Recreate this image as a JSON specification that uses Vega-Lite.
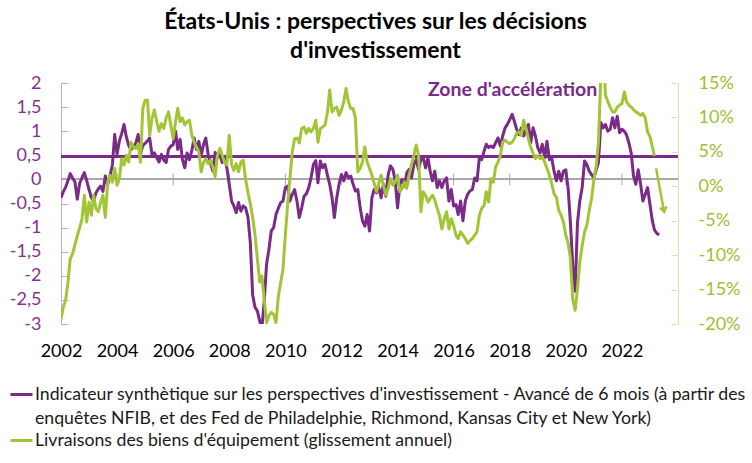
{
  "$schema": "https://vega.github.io/schema/vega-lite/v6.json",
  "width": 617,
  "height": 241,
  "autosize": {"type": "none"},
  "padding": {"left": 61, "top": 83, "right": 74, "bottom": 139},
  "background": "white",
  "title": {
    "text": ["États-Unis : perspectives sur les décisions", "d'investissement"],
    "font": "Lato",
    "fontSize": 23,
    "fontWeight": "bold",
    "color": "#000000",
    "anchor": "middle",
    "frame": "group",
    "dx": 6,
    "offset": 11,
    "lineHeight": 29
  },
  "data": {
    "values": [
      {"date": "2002-01", "indicateur": -0.38, "livraisons": -19.3},
      {"date": "2002-02", "indicateur": -0.25, "livraisons": -17.5},
      {"date": "2002-03", "indicateur": -0.17, "livraisons": -16.6},
      {"date": "2002-04", "indicateur": -0.03, "livraisons": -14.0},
      {"date": "2002-05", "indicateur": 0.12, "livraisons": -10.5},
      {"date": "2002-06", "indicateur": 0.03, "livraisons": -9.8},
      {"date": "2002-07", "indicateur": -0.05, "livraisons": -8.5},
      {"date": "2002-08", "indicateur": -0.41, "livraisons": -7.2},
      {"date": "2002-09", "indicateur": -0.08, "livraisons": -6.0},
      {"date": "2002-10", "indicateur": 0.03, "livraisons": -4.8},
      {"date": "2002-11", "indicateur": 0.14, "livraisons": -1.3},
      {"date": "2002-12", "indicateur": -0.02, "livraisons": -5.2},
      {"date": "2003-01", "indicateur": -0.21, "livraisons": -2.3},
      {"date": "2003-02", "indicateur": -0.38, "livraisons": -4.2},
      {"date": "2003-03", "indicateur": -0.45, "livraisons": -1.3},
      {"date": "2003-04", "indicateur": -0.28, "livraisons": -3.2},
      {"date": "2003-05", "indicateur": -0.2, "livraisons": -3.7},
      {"date": "2003-06", "indicateur": -0.14, "livraisons": -2.3},
      {"date": "2003-07", "indicateur": -0.25, "livraisons": -1.3},
      {"date": "2003-08", "indicateur": 0.07, "livraisons": -4.5},
      {"date": "2003-09", "indicateur": -0.1, "livraisons": 0.6},
      {"date": "2003-10", "indicateur": 0.07, "livraisons": 1.6},
      {"date": "2003-11", "indicateur": 0.3, "livraisons": 0.6},
      {"date": "2003-12", "indicateur": 0.93, "livraisons": 2.6},
      {"date": "2004-01", "indicateur": 0.52, "livraisons": 0.15},
      {"date": "2004-02", "indicateur": 0.8, "livraisons": 1.1},
      {"date": "2004-03", "indicateur": 0.95, "livraisons": 4.0},
      {"date": "2004-04", "indicateur": 1.14, "livraisons": 3.1},
      {"date": "2004-05", "indicateur": 0.88, "livraisons": 4.5},
      {"date": "2004-06", "indicateur": 0.7, "livraisons": 3.5},
      {"date": "2004-07", "indicateur": 0.62, "livraisons": 6.4},
      {"date": "2004-08", "indicateur": 0.68, "livraisons": 5.7},
      {"date": "2004-09", "indicateur": 0.75, "livraisons": 5.5},
      {"date": "2004-10", "indicateur": 0.93, "livraisons": 6.2},
      {"date": "2004-11", "indicateur": 0.52, "livraisons": 3.5},
      {"date": "2004-12", "indicateur": 0.7, "livraisons": 11.3},
      {"date": "2005-01", "indicateur": 0.75, "livraisons": 12.5},
      {"date": "2005-02", "indicateur": 0.8, "livraisons": 12.5},
      {"date": "2005-03", "indicateur": 0.86, "livraisons": 7.4},
      {"date": "2005-04", "indicateur": 0.5, "livraisons": 9.9},
      {"date": "2005-05", "indicateur": 0.55, "livraisons": 11.1},
      {"date": "2005-06", "indicateur": 0.45, "livraisons": 9.4},
      {"date": "2005-07", "indicateur": 0.36, "livraisons": 8.0},
      {"date": "2005-08", "indicateur": 0.52, "livraisons": 9.1},
      {"date": "2005-09", "indicateur": 0.4, "livraisons": 8.4},
      {"date": "2005-10", "indicateur": 0.35, "livraisons": 9.9},
      {"date": "2005-11", "indicateur": 0.62, "livraisons": 10.8},
      {"date": "2005-12", "indicateur": 0.69, "livraisons": 8.9},
      {"date": "2006-01", "indicateur": 0.72, "livraisons": 6.9},
      {"date": "2006-02", "indicateur": 1.0, "livraisons": 9.4},
      {"date": "2006-03", "indicateur": 0.62, "livraisons": 11.3},
      {"date": "2006-04", "indicateur": 0.83, "livraisons": 9.4},
      {"date": "2006-05", "indicateur": 0.41, "livraisons": 9.9},
      {"date": "2006-06", "indicateur": 0.24, "livraisons": 8.9},
      {"date": "2006-07", "indicateur": 0.55, "livraisons": 9.4},
      {"date": "2006-08", "indicateur": 0.41, "livraisons": 9.6},
      {"date": "2006-09", "indicateur": 0.6, "livraisons": 7.4},
      {"date": "2006-10", "indicateur": 0.86, "livraisons": 6.4},
      {"date": "2006-11", "indicateur": 0.62, "livraisons": 5.7},
      {"date": "2006-12", "indicateur": 0.79, "livraisons": 5.0},
      {"date": "2007-01", "indicateur": 0.5, "livraisons": 2.1},
      {"date": "2007-02", "indicateur": 0.73, "livraisons": 3.5},
      {"date": "2007-03", "indicateur": 0.86, "livraisons": 4.0},
      {"date": "2007-04", "indicateur": 0.52, "livraisons": 3.3},
      {"date": "2007-05", "indicateur": 0.35, "livraisons": 3.8},
      {"date": "2007-06", "indicateur": 0.17, "livraisons": 2.8},
      {"date": "2007-07", "indicateur": 0.56, "livraisons": 1.4},
      {"date": "2007-08", "indicateur": 0.45, "livraisons": 4.5},
      {"date": "2007-09", "indicateur": 0.52, "livraisons": 5.5},
      {"date": "2007-10", "indicateur": 0.35, "livraisons": 4.5},
      {"date": "2007-11", "indicateur": 0.45, "livraisons": 3.5},
      {"date": "2007-12", "indicateur": 0.24, "livraisons": 3.1},
      {"date": "2008-01", "indicateur": -0.1, "livraisons": 7.4},
      {"date": "2008-02", "indicateur": -0.45, "livraisons": 3.1},
      {"date": "2008-03", "indicateur": -0.55, "livraisons": 2.3},
      {"date": "2008-04", "indicateur": -0.69, "livraisons": 3.3},
      {"date": "2008-05", "indicateur": -0.48, "livraisons": 2.1},
      {"date": "2008-06", "indicateur": -0.66, "livraisons": 3.5},
      {"date": "2008-07", "indicateur": -0.55, "livraisons": 3.8},
      {"date": "2008-08", "indicateur": -0.59, "livraisons": 1.0},
      {"date": "2008-09", "indicateur": -0.79, "livraisons": -0.9},
      {"date": "2008-10", "indicateur": -1.3, "livraisons": -2.5},
      {"date": "2008-11", "indicateur": -2.4, "livraisons": -4.5},
      {"date": "2008-12", "indicateur": -2.65, "livraisons": -7.0},
      {"date": "2009-01", "indicateur": -2.73, "livraisons": -10.5},
      {"date": "2009-02", "indicateur": -2.94, "livraisons": -13.9},
      {"date": "2009-03", "indicateur": -3.1, "livraisons": -13.0},
      {"date": "2009-04", "indicateur": -2.52, "livraisons": -16.5},
      {"date": "2009-05", "indicateur": -1.76, "livraisons": -19.8},
      {"date": "2009-06", "indicateur": -1.45, "livraisons": -18.8},
      {"date": "2009-07", "indicateur": -1.07, "livraisons": -18.3},
      {"date": "2009-08", "indicateur": -1.0, "livraisons": -18.6},
      {"date": "2009-09", "indicateur": -0.73, "livraisons": -19.8},
      {"date": "2009-10", "indicateur": -0.6, "livraisons": -16.0},
      {"date": "2009-11", "indicateur": -0.48, "livraisons": -14.0},
      {"date": "2009-12", "indicateur": -0.45, "livraisons": -12.0},
      {"date": "2010-01", "indicateur": -0.17, "livraisons": -7.0},
      {"date": "2010-02", "indicateur": -0.14, "livraisons": -2.5},
      {"date": "2010-03", "indicateur": -0.45, "livraisons": 1.1},
      {"date": "2010-04", "indicateur": -0.31, "livraisons": 5.0},
      {"date": "2010-05", "indicateur": -0.21, "livraisons": 6.9},
      {"date": "2010-06", "indicateur": -0.45, "livraisons": 7.0},
      {"date": "2010-07", "indicateur": -0.79, "livraisons": 6.3},
      {"date": "2010-08", "indicateur": -0.59, "livraisons": 8.4},
      {"date": "2010-09", "indicateur": -0.35, "livraisons": 8.6},
      {"date": "2010-10", "indicateur": -0.3, "livraisons": 7.7},
      {"date": "2010-11", "indicateur": -0.17, "livraisons": 8.4},
      {"date": "2010-12", "indicateur": 0.03, "livraisons": 7.9},
      {"date": "2011-01", "indicateur": 0.31, "livraisons": 8.4},
      {"date": "2011-02", "indicateur": 0.39, "livraisons": 9.6},
      {"date": "2011-03", "indicateur": -0.07, "livraisons": 6.4},
      {"date": "2011-04", "indicateur": 0.38, "livraisons": 8.4},
      {"date": "2011-05", "indicateur": 0.24, "livraisons": 8.6},
      {"date": "2011-06", "indicateur": 0.31, "livraisons": 8.9},
      {"date": "2011-07", "indicateur": 0.1, "livraisons": 10.6},
      {"date": "2011-08", "indicateur": -0.1, "livraisons": 14.0},
      {"date": "2011-09", "indicateur": -0.38, "livraisons": 10.8},
      {"date": "2011-10", "indicateur": -0.79, "livraisons": 11.3},
      {"date": "2011-11", "indicateur": -0.38, "livraisons": 11.5},
      {"date": "2011-12", "indicateur": -0.1, "livraisons": 10.3},
      {"date": "2012-01", "indicateur": 0.1, "livraisons": 11.1},
      {"date": "2012-02", "indicateur": -0.03, "livraisons": 12.3},
      {"date": "2012-03", "indicateur": 0.14, "livraisons": 14.2},
      {"date": "2012-04", "indicateur": 0.03, "livraisons": 12.3},
      {"date": "2012-05", "indicateur": 0.07, "livraisons": 11.3},
      {"date": "2012-06", "indicateur": -0.1, "livraisons": 11.3},
      {"date": "2012-07", "indicateur": -0.24, "livraisons": 9.9},
      {"date": "2012-08", "indicateur": -0.21, "livraisons": 2.1},
      {"date": "2012-09", "indicateur": -0.59, "livraisons": 2.6},
      {"date": "2012-10", "indicateur": -0.86, "livraisons": 3.5},
      {"date": "2012-11", "indicateur": -0.97, "livraisons": 5.7},
      {"date": "2012-12", "indicateur": -0.73, "livraisons": 3.5},
      {"date": "2013-01", "indicateur": -1.07, "livraisons": 2.6},
      {"date": "2013-02", "indicateur": -0.38, "livraisons": 1.6},
      {"date": "2013-03", "indicateur": -0.21, "livraisons": 0.5},
      {"date": "2013-04", "indicateur": -0.28, "livraisons": -0.8},
      {"date": "2013-05", "indicateur": -0.17, "livraisons": 0.4},
      {"date": "2013-06", "indicateur": -0.38, "livraisons": 1.6},
      {"date": "2013-07", "indicateur": -0.1, "livraisons": 0.15},
      {"date": "2013-08", "indicateur": -0.35, "livraisons": -1.3},
      {"date": "2013-09", "indicateur": 0.1, "livraisons": -0.3},
      {"date": "2013-10", "indicateur": 0.28, "livraisons": 1.1},
      {"date": "2013-11", "indicateur": 0.21, "livraisons": 0.15},
      {"date": "2013-12", "indicateur": -0.03, "livraisons": 0.6},
      {"date": "2014-01", "indicateur": -0.59, "livraisons": 1.6},
      {"date": "2014-02", "indicateur": -0.1, "livraisons": -0.8},
      {"date": "2014-03", "indicateur": 0.0, "livraisons": -0.3},
      {"date": "2014-04", "indicateur": -0.14, "livraisons": 0.6},
      {"date": "2014-05", "indicateur": 0.14, "livraisons": -0.3},
      {"date": "2014-06", "indicateur": 0.21, "livraisons": 1.6},
      {"date": "2014-07", "indicateur": 0.03, "livraisons": 3.1},
      {"date": "2014-08", "indicateur": 0.31, "livraisons": 4.5},
      {"date": "2014-09", "indicateur": 0.41, "livraisons": 6.0},
      {"date": "2014-10", "indicateur": 0.21, "livraisons": 4.5},
      {"date": "2014-11", "indicateur": 0.41, "livraisons": -3.7},
      {"date": "2014-12", "indicateur": 0.45, "livraisons": -0.8},
      {"date": "2015-01", "indicateur": 0.24, "livraisons": -1.3},
      {"date": "2015-02", "indicateur": 0.45, "livraisons": -2.3},
      {"date": "2015-03", "indicateur": 0.17, "livraisons": -1.8},
      {"date": "2015-04", "indicateur": -0.03, "livraisons": -1.3},
      {"date": "2015-05", "indicateur": 0.17, "livraisons": -2.0},
      {"date": "2015-06", "indicateur": -0.17, "livraisons": -3.2},
      {"date": "2015-07", "indicateur": -0.03, "livraisons": -4.2},
      {"date": "2015-08", "indicateur": -0.17, "livraisons": -6.2},
      {"date": "2015-09", "indicateur": -0.03, "livraisons": -4.7},
      {"date": "2015-10", "indicateur": 0.03, "livraisons": -3.7},
      {"date": "2015-11", "indicateur": -0.45, "livraisons": -6.2},
      {"date": "2015-12", "indicateur": -0.21, "livraisons": -4.7},
      {"date": "2016-01", "indicateur": -0.55, "livraisons": -5.7},
      {"date": "2016-02", "indicateur": -0.52, "livraisons": -7.1},
      {"date": "2016-03", "indicateur": -0.73, "livraisons": -7.6},
      {"date": "2016-04", "indicateur": -0.45, "livraisons": -6.6},
      {"date": "2016-05", "indicateur": -0.86, "livraisons": -7.1},
      {"date": "2016-06", "indicateur": -0.45, "livraisons": -7.6},
      {"date": "2016-07", "indicateur": -0.31, "livraisons": -8.3},
      {"date": "2016-08", "indicateur": -0.24, "livraisons": -7.9},
      {"date": "2016-09", "indicateur": -0.21, "livraisons": -7.6},
      {"date": "2016-10", "indicateur": 0.03, "livraisons": -7.1},
      {"date": "2016-11", "indicateur": -0.03, "livraisons": -6.6},
      {"date": "2016-12", "indicateur": 0.45, "livraisons": -4.2},
      {"date": "2017-01", "indicateur": 0.41, "livraisons": -3.2},
      {"date": "2017-02", "indicateur": 0.59, "livraisons": -2.8},
      {"date": "2017-03", "indicateur": 0.73, "livraisons": -0.8},
      {"date": "2017-04", "indicateur": 0.66, "livraisons": -2.3},
      {"date": "2017-05", "indicateur": 0.69, "livraisons": 1.1},
      {"date": "2017-06", "indicateur": 0.66, "livraisons": 0.6},
      {"date": "2017-07", "indicateur": 0.76, "livraisons": 2.8},
      {"date": "2017-08", "indicateur": 0.86, "livraisons": 3.5},
      {"date": "2017-09", "indicateur": 0.69, "livraisons": 4.5},
      {"date": "2017-10", "indicateur": 0.9, "livraisons": 6.4},
      {"date": "2017-11", "indicateur": 1.07, "livraisons": 6.7},
      {"date": "2017-12", "indicateur": 1.14, "livraisons": 6.4},
      {"date": "2018-01", "indicateur": 1.24, "livraisons": 6.2},
      {"date": "2018-02", "indicateur": 1.35, "livraisons": 6.4},
      {"date": "2018-03", "indicateur": 1.21, "livraisons": 6.9},
      {"date": "2018-04", "indicateur": 1.04, "livraisons": 7.7},
      {"date": "2018-05", "indicateur": 0.93, "livraisons": 7.9},
      {"date": "2018-06", "indicateur": 1.07, "livraisons": 7.4},
      {"date": "2018-07", "indicateur": 0.9, "livraisons": 9.6},
      {"date": "2018-08", "indicateur": 1.04, "livraisons": 8.4},
      {"date": "2018-09", "indicateur": 1.14, "livraisons": 6.9},
      {"date": "2018-10", "indicateur": 0.76, "livraisons": 5.7},
      {"date": "2018-11", "indicateur": 1.07, "livraisons": 4.8},
      {"date": "2018-12", "indicateur": 0.9, "livraisons": 4.0},
      {"date": "2019-01", "indicateur": 0.66, "livraisons": 4.5},
      {"date": "2019-02", "indicateur": 0.55, "livraisons": 4.0},
      {"date": "2019-03", "indicateur": 0.73, "livraisons": 4.3},
      {"date": "2019-04", "indicateur": 0.45, "livraisons": 3.5},
      {"date": "2019-05", "indicateur": 0.79, "livraisons": 2.6},
      {"date": "2019-06", "indicateur": 0.41, "livraisons": 1.6},
      {"date": "2019-07", "indicateur": 0.45, "livraisons": 0.4},
      {"date": "2019-08", "indicateur": 0.17, "livraisons": -1.1},
      {"date": "2019-09", "indicateur": -0.03, "livraisons": -1.6},
      {"date": "2019-10", "indicateur": 0.17, "livraisons": -3.5},
      {"date": "2019-11", "indicateur": -0.03, "livraisons": -4.2},
      {"date": "2019-12", "indicateur": 0.17, "livraisons": -5.2},
      {"date": "2020-01", "indicateur": 0.2, "livraisons": -7.1},
      {"date": "2020-02", "indicateur": -0.2, "livraisons": -8.3},
      {"date": "2020-03", "indicateur": -0.9, "livraisons": -10.5},
      {"date": "2020-04", "indicateur": -1.8, "livraisons": -16.5},
      {"date": "2020-05", "indicateur": -2.32, "livraisons": -18.0},
      {"date": "2020-06", "indicateur": -0.9, "livraisons": -14.9},
      {"date": "2020-07", "indicateur": -0.45, "livraisons": -11.0},
      {"date": "2020-08", "indicateur": -0.17, "livraisons": -8.6},
      {"date": "2020-09", "indicateur": 0.38, "livraisons": -6.6},
      {"date": "2020-10", "indicateur": 0.31, "livraisons": -5.7},
      {"date": "2020-11", "indicateur": 0.17, "livraisons": -3.5},
      {"date": "2020-12", "indicateur": 0.1, "livraisons": -1.8},
      {"date": "2021-01", "indicateur": 0.03, "livraisons": 1.0},
      {"date": "2021-02", "indicateur": 0.21, "livraisons": 3.1},
      {"date": "2021-03", "indicateur": 0.35, "livraisons": 6.4},
      {"date": "2021-04", "indicateur": 1.18, "livraisons": 16.0},
      {"date": "2021-05", "indicateur": 1.07, "livraisons": 20.0},
      {"date": "2021-06", "indicateur": 1.14, "livraisons": 13.2},
      {"date": "2021-07", "indicateur": 1.0, "livraisons": 12.3},
      {"date": "2021-08", "indicateur": 1.04, "livraisons": 11.5},
      {"date": "2021-09", "indicateur": 1.28, "livraisons": 10.8},
      {"date": "2021-10", "indicateur": 1.07, "livraisons": 10.8},
      {"date": "2021-11", "indicateur": 1.31, "livraisons": 11.5},
      {"date": "2021-12", "indicateur": 0.97, "livraisons": 11.8},
      {"date": "2022-01", "indicateur": 1.04, "livraisons": 12.0},
      {"date": "2022-02", "indicateur": 1.0, "livraisons": 13.7},
      {"date": "2022-03", "indicateur": 0.93, "livraisons": 12.3},
      {"date": "2022-04", "indicateur": 0.76, "livraisons": 11.8},
      {"date": "2022-05", "indicateur": 0.55, "livraisons": 11.5},
      {"date": "2022-06", "indicateur": 0.07, "livraisons": 11.1},
      {"date": "2022-07", "indicateur": -0.1, "livraisons": 10.8},
      {"date": "2022-08", "indicateur": 0.2, "livraisons": 10.6},
      {"date": "2022-09", "indicateur": -0.1, "livraisons": 10.3},
      {"date": "2022-10", "indicateur": -0.45, "livraisons": 10.6},
      {"date": "2022-11", "indicateur": -0.31, "livraisons": 9.9},
      {"date": "2022-12", "indicateur": -0.17, "livraisons": 7.9},
      {"date": "2023-01", "indicateur": -0.52, "livraisons": 7.2},
      {"date": "2023-02", "indicateur": -0.86, "livraisons": 5.7},
      {"date": "2023-03", "indicateur": -1.05, "livraisons": 4.4},
      {"date": "2023-04", "indicateur": -1.12, "livraisons": null},
      {"date": "2023-05", "indicateur": -1.15, "livraisons": null}
    ]
  },
  "layer": [
    {
      "layer": [
        {
          "mark": {"type": "rule", "color": "#a6a6a6", "strokeWidth": 1},
          "encoding": {
            "y": {
              "datum": 0,
              "scale": {"domain": [-3, 2], "nice": false, "zero": false},
              "axis": {
                "orient": "left",
                "values": [-3, -2.5, -2, -1.5, -1, -0.5, 0, 0.5, 1, 1.5, 2],
                "labelExpr": "replace(datum.value + '', '.', ',')",
                "labelOverlap": false,
                "labelFlush": false,
                "labelColor": "#84338f",
                "labelFontSize": 18,
                "domainColor": "#caa6ce",
                "tickColor": "#caa6ce",
                "tickSize": -7,
                "labelPadding": 27
              }
            }
          }
        },
        {
          "data": {
            "values": [
              {"date": "2004-01"}, {"date": "2006-01"}, {"date": "2008-01"},
              {"date": "2010-01"}, {"date": "2012-01"}, {"date": "2014-01"},
              {"date": "2016-01"}, {"date": "2018-01"}, {"date": "2020-01"},
              {"date": "2022-01"}
            ]
          },
          "mark": {"type": "rule", "color": "#a6a6a6", "strokeWidth": 1},
          "encoding": {
            "x": {"field": "date", "type": "temporal", "scale": {"type": "utc"}},
            "y": {
              "datum": 0.12,
              "axis": {
                "orient": "left",
                "values": [-3, -2.5, -2, -1.5, -1, -0.5, 0, 0.5, 1, 1.5, 2],
                "labelExpr": "replace(datum.value + '', '.', ',')",
                "labelOverlap": false,
                "labelFlush": false,
                "labelColor": "#84338f",
                "labelFontSize": 18,
                "domainColor": "#caa6ce",
                "tickColor": "#caa6ce",
                "tickSize": -7,
                "labelPadding": 27
              }
            },
            "y2": {"datum": -0.12}
          }
        },
        {
          "mark": {"type": "line", "strokeWidth": 3, "clip": true, "strokeJoin": "round"},
          "encoding": {
            "x": {
              "field": "date",
              "type": "temporal",
              "scale": {
                "type": "utc",
                "domain": [
                  {"year": 2002, "month": 1, "date": 1, "utc": true},
                  {"year": 2024, "month": 1, "date": 1, "utc": true}
                ]
              },
              "axis": {
                "orient": "bottom",
                "values": [
                  {"year": 2002, "month": 1, "date": 1, "utc": true},
                  {"year": 2004, "month": 1, "date": 1, "utc": true},
                  {"year": 2006, "month": 1, "date": 1, "utc": true},
                  {"year": 2008, "month": 1, "date": 1, "utc": true},
                  {"year": 2010, "month": 1, "date": 1, "utc": true},
                  {"year": 2012, "month": 1, "date": 1, "utc": true},
                  {"year": 2014, "month": 1, "date": 1, "utc": true},
                  {"year": 2016, "month": 1, "date": 1, "utc": true},
                  {"year": 2018, "month": 1, "date": 1, "utc": true},
                  {"year": 2020, "month": 1, "date": 1, "utc": true},
                  {"year": 2022, "month": 1, "date": 1, "utc": true}
                ],
                "format": "%Y",
                "domain": false,
                "ticks": false,
                "labelFlush": false,
                "labelOverlap": false,
                "labelPadding": 18,
                "labelColor": "#000000",
                "labelFontSize": 18
              }
            },
            "y": {
              "field": "indicateur",
              "type": "quantitative",
              "scale": {"domain": [-3, 2], "nice": false, "zero": false},
              "axis": {
                "orient": "left",
                "values": [-3, -2.5, -2, -1.5, -1, -0.5, 0, 0.5, 1, 1.5, 2],
                "labelExpr": "replace(datum.value + '', '.', ',')",
                "labelOverlap": false,
                "labelFlush": false,
                "labelColor": "#84338f",
                "labelFontSize": 18,
                "domainColor": "#caa6ce",
                "tickColor": "#caa6ce",
                "tickSize": -7,
                "labelPadding": 27
              }
            },
            "color": {
              "datum": "Indicateur synthètique sur les perspectives d'investissement - Avancé de 6 mois (à partir des enquêtes NFIB, et des Fed de Philadelphie, Richmond, Kansas City et New York)",
              "scale": {
                "domain": [
                  "Indicateur synthètique sur les perspectives d'investissement - Avancé de 6 mois (à partir des enquêtes NFIB, et des Fed de Philadelphie, Richmond, Kansas City et New York)",
                  "Livraisons des biens d'équipement (glissement annuel)"
                ],
                "range": ["#7a2a87", "#a2c535"]
              },
              "legend": {
                "orient": "none",
                "legendX": -52,
                "legendY": 299,
                "direction": "vertical",
                "title": null,
                "symbolType": "stroke",
                "symbolStrokeWidth": 3,
                "symbolSize": 484,
                "labelFont": "Lato",
                "labelFontSize": 17.7,
                "labelColor": "#1a1a1a",
                "labelLimit": 900,
                "labelOffset": 1,
                "rowPadding": -2,
                "padding": 0,
                "encode": {"labels": {"update": {"lineHeight": {"value": 24}}}},
                "labelExpr": "indexof(datum.label, 'Indicateur') == 0 ? [\"Indicateur synthètique sur les perspectives d'investissement - Avancé de 6 mois (à partir des\", \"enquêtes NFIB, et des Fed de Philadelphie, Richmond, Kansas City et New York)\"] : datum.label"
              }
            }
          }
        },
        {
          "mark": {"type": "rule", "color": "#7a2a87", "strokeWidth": 2},
          "encoding": {
            "y": {
              "datum": 0.48,
              "axis": {
                "orient": "left",
                "values": [-3, -2.5, -2, -1.5, -1, -0.5, 0, 0.5, 1, 1.5, 2],
                "labelExpr": "replace(datum.value + '', '.', ',')",
                "labelOverlap": false,
                "labelFlush": false,
                "labelColor": "#84338f",
                "labelFontSize": 18,
                "domainColor": "#caa6ce",
                "tickColor": "#caa6ce",
                "tickSize": -7,
                "labelPadding": 27
              }
            }
          }
        },
        {
          "data": {"values": [{"date": "2018-02-07", "indicateur": 1.85, "label": "Zone d'accélération"}]},
          "mark": {
            "type": "text",
            "font": "Lato",
            "fontSize": 19.5,
            "fontWeight": "bold",
            "color": "#7a2a87",
            "align": "center",
            "baseline": "middle"
          },
          "encoding": {
            "x": {"field": "date", "type": "temporal", "scale": {"type": "utc"}},
            "y": {
              "field": "indicateur",
              "type": "quantitative",
              "axis": {
                "orient": "left",
                "values": [-3, -2.5, -2, -1.5, -1, -0.5, 0, 0.5, 1, 1.5, 2],
                "labelExpr": "replace(datum.value + '', '.', ',')",
                "labelOverlap": false,
                "labelFlush": false,
                "labelColor": "#84338f",
                "labelFontSize": 18,
                "domainColor": "#caa6ce",
                "tickColor": "#caa6ce",
                "tickSize": -7,
                "labelPadding": 27
              }
            },
            "text": {"field": "label"}
          }
        }
      ]
    },
    {
      "layer": [
        {
          "mark": {"type": "line", "strokeWidth": 3, "clip": true, "strokeJoin": "round"},
          "encoding": {
            "x": {"field": "date", "type": "temporal", "scale": {"type": "utc"}},
            "y": {
              "field": "livraisons",
              "type": "quantitative",
              "scale": {"domain": [-20, 15], "nice": false, "zero": false},
              "axis": {
                "orient": "right",
                "values": [-20, -15, -10, -5, 0, 5, 10, 15],
                "labelExpr": "datum.value + '%'",
                "labelOverlap": false,
                "labelFlush": false,
                "labelColor": "#9dc02f",
                "labelFontSize": 18,
                "domainColor": "#d6e6a6",
                "tickColor": "#d6e6a6",
                "tickSize": -7,
                "labelPadding": 27
              }
            },
            "color": {"datum": "Livraisons des biens d'équipement (glissement annuel)"}
          }
        },
        {
          "data": {
            "values": [
              {"date": "2023-03-22", "livraisons": 2.6},
              {"date": "2023-07-04", "livraisons": -3.7}
            ]
          },
          "mark": {"type": "line", "strokeWidth": 2.5, "color": "#a2c535"},
          "encoding": {
            "x": {"field": "date", "type": "temporal", "scale": {"type": "utc"}},
            "y": {
              "field": "livraisons",
              "type": "quantitative",
              "axis": {
                "orient": "right",
                "values": [-20, -15, -10, -5, 0, 5, 10, 15],
                "labelExpr": "datum.value + '%'",
                "labelOverlap": false,
                "labelFlush": false,
                "labelColor": "#9dc02f",
                "labelFontSize": 18,
                "domainColor": "#d6e6a6",
                "tickColor": "#d6e6a6",
                "tickSize": -7,
                "labelPadding": 27
              }
            }
          }
        },
        {
          "data": {"values": [{"date": "2023-07-04", "livraisons": -3.7}]},
          "mark": {
            "type": "point",
            "shape": "M-0.8,-1.2L0,0L0.8,-1.2",
            "filled": false,
            "size": 64,
            "strokeWidth": 2.5,
            "color": "#a2c535",
            "opacity": 1,
            "angle": 350
          },
          "encoding": {
            "x": {"field": "date", "type": "temporal", "scale": {"type": "utc"}},
            "y": {
              "field": "livraisons",
              "type": "quantitative",
              "axis": {
                "orient": "right",
                "values": [-20, -15, -10, -5, 0, 5, 10, 15],
                "labelExpr": "datum.value + '%'",
                "labelOverlap": false,
                "labelFlush": false,
                "labelColor": "#9dc02f",
                "labelFontSize": 18,
                "domainColor": "#d6e6a6",
                "tickColor": "#d6e6a6",
                "tickSize": -7,
                "labelPadding": 27
              }
            }
          }
        }
      ]
    }
  ],
  "resolve": {"scale": {"y": "independent"}},
  "config": {
    "view": {"stroke": null},
    "font": "Lato",
    "axis": {"title": null, "grid": false, "labelFont": "Lato"},
    "legend": {"labelFont": "Lato"}
  }
}
